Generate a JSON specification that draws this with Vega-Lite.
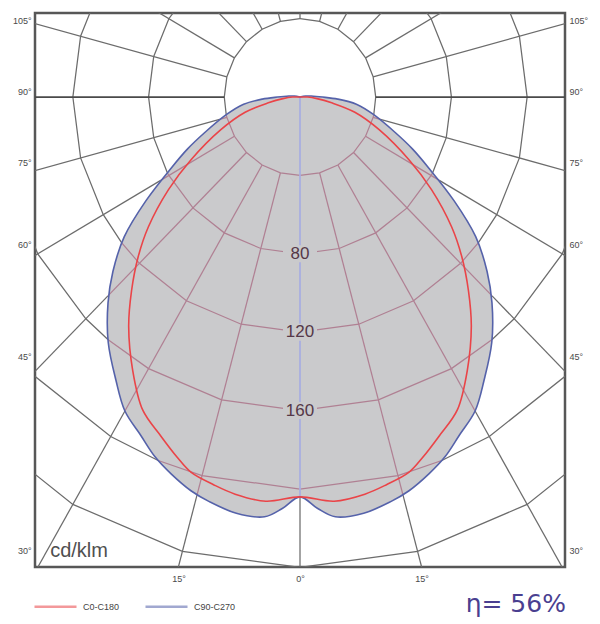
{
  "$schema": "https://vega.github.io/schema/vega-lite/v6.json",
  "width": 530,
  "height": 554,
  "autosize": {"type": "none"},
  "padding": {"left": 35, "top": 13, "right": 35, "bottom": 57},
  "background": "white",
  "config": {
    "font": "Liberation Sans",
    "view": {"stroke": "#575757", "strokeWidth": 2.5},
    "axis": {"grid": false, "domain": false, "ticks": false, "labelFontSize": 9, "labelColor": "#4a4a4a", "labelOverlap": false}
  },
  "datasets": {
    "curves": [
      {"c": "C90-C270", "a": -110, "v": 0}, {"c": "C90-C270", "a": -100, "v": 3}, {"c": "C90-C270", "a": -95, "v": 6},
      {"c": "C90-C270", "a": -90, "v": 12}, {"c": "C90-C270", "a": -87, "v": 20}, {"c": "C90-C270", "a": -83, "v": 30},
      {"c": "C90-C270", "a": -77, "v": 40}, {"c": "C90-C270", "a": -70, "v": 54}, {"c": "C90-C270", "a": -66, "v": 65},
      {"c": "C90-C270", "a": -62, "v": 77}, {"c": "C90-C270", "a": -57, "v": 97}, {"c": "C90-C270", "a": -52.5, "v": 117},
      {"c": "C90-C270", "a": -48, "v": 133}, {"c": "C90-C270", "a": -44, "v": 146}, {"c": "C90-C270", "a": -39, "v": 161},
      {"c": "C90-C270", "a": -34, "v": 174}, {"c": "C90-C270", "a": -30, "v": 185}, {"c": "C90-C270", "a": -26, "v": 192},
      {"c": "C90-C270", "a": -22.6, "v": 199}, {"c": "C90-C270", "a": -19.5, "v": 204}, {"c": "C90-C270", "a": -16, "v": 209},
      {"c": "C90-C270", "a": -13, "v": 212}, {"c": "C90-C270", "a": -9, "v": 215}, {"c": "C90-C270", "a": -5, "v": 215},
      {"c": "C90-C270", "a": -2.5, "v": 210}, {"c": "C90-C270", "a": 0, "v": 204}, {"c": "C90-C270", "a": 2.5, "v": 210},
      {"c": "C90-C270", "a": 5, "v": 215}, {"c": "C90-C270", "a": 9, "v": 215}, {"c": "C90-C270", "a": 13, "v": 212},
      {"c": "C90-C270", "a": 16, "v": 209}, {"c": "C90-C270", "a": 19.5, "v": 204}, {"c": "C90-C270", "a": 22.6, "v": 199},
      {"c": "C90-C270", "a": 26, "v": 192}, {"c": "C90-C270", "a": 30, "v": 185}, {"c": "C90-C270", "a": 34, "v": 174},
      {"c": "C90-C270", "a": 39, "v": 161}, {"c": "C90-C270", "a": 44, "v": 146}, {"c": "C90-C270", "a": 48, "v": 133},
      {"c": "C90-C270", "a": 52.5, "v": 117}, {"c": "C90-C270", "a": 57, "v": 97}, {"c": "C90-C270", "a": 62, "v": 77},
      {"c": "C90-C270", "a": 66, "v": 65}, {"c": "C90-C270", "a": 70, "v": 54}, {"c": "C90-C270", "a": 77, "v": 40},
      {"c": "C90-C270", "a": 83, "v": 30}, {"c": "C90-C270", "a": 87, "v": 20}, {"c": "C90-C270", "a": 90, "v": 12},
      {"c": "C90-C270", "a": 95, "v": 6}, {"c": "C90-C270", "a": 100, "v": 3}, {"c": "C90-C270", "a": 110, "v": 0},
      {"c": "C0-C180", "a": -100, "v": 0}, {"c": "C0-C180", "a": -90, "v": 4}, {"c": "C0-C180", "a": -85, "v": 9},
      {"c": "C0-C180", "a": -80, "v": 17}, {"c": "C0-C180", "a": -75, "v": 30}, {"c": "C0-C180", "a": -68.3, "v": 45},
      {"c": "C0-C180", "a": -60.9, "v": 66}, {"c": "C0-C180", "a": -55.8, "v": 84}, {"c": "C0-C180", "a": -50.4, "v": 104},
      {"c": "C0-C180", "a": -46.4, "v": 118}, {"c": "C0-C180", "a": -42, "v": 133}, {"c": "C0-C180", "a": -37.7, "v": 148},
      {"c": "C0-C180", "a": -32.4, "v": 165}, {"c": "C0-C180", "a": -27.5, "v": 180}, {"c": "C0-C180", "a": -23, "v": 188},
      {"c": "C0-C180", "a": -19.4, "v": 195}, {"c": "C0-C180", "a": -16.7, "v": 200}, {"c": "C0-C180", "a": -13, "v": 203},
      {"c": "C0-C180", "a": -9.6, "v": 205.5}, {"c": "C0-C180", "a": -5, "v": 207}, {"c": "C0-C180", "a": 0, "v": 204},
      {"c": "C0-C180", "a": 5, "v": 207}, {"c": "C0-C180", "a": 9.6, "v": 205.5}, {"c": "C0-C180", "a": 13, "v": 203},
      {"c": "C0-C180", "a": 16.7, "v": 200}, {"c": "C0-C180", "a": 19.4, "v": 195}, {"c": "C0-C180", "a": 23, "v": 188},
      {"c": "C0-C180", "a": 27.5, "v": 180}, {"c": "C0-C180", "a": 32.4, "v": 165}, {"c": "C0-C180", "a": 37.7, "v": 148},
      {"c": "C0-C180", "a": 42, "v": 133}, {"c": "C0-C180", "a": 46.4, "v": 118}, {"c": "C0-C180", "a": 50.4, "v": 104},
      {"c": "C0-C180", "a": 55.8, "v": 84}, {"c": "C0-C180", "a": 60.9, "v": 66}, {"c": "C0-C180", "a": 68.3, "v": 45},
      {"c": "C0-C180", "a": 75, "v": 30}, {"c": "C0-C180", "a": 80, "v": 17}, {"c": "C0-C180", "a": 85, "v": 9},
      {"c": "C0-C180", "a": 90, "v": 4}, {"c": "C0-C180", "a": 100, "v": 0}
    ],
    "rings": [
      {"id": "r40i", "s": "in", "v": 40, "a": [-77, -75, -60, -45, -30, -15, 0, 15, 30, 45, 60, 75, 77]},
      {"id": "r40l", "s": "out", "v": 40, "a": [-180, -165, -150, -135, -120, -105, -90, -77]},
      {"id": "r40r", "s": "out", "v": 40, "a": [77, 90, 105, 120, 135, 150, 165, 180]},
      {"id": "r80i", "s": "in", "v": 80, "a": [-61.25, -60, -45, -30, -15, 0, 15, 30, 45, 60, 61.25]},
      {"id": "r80l", "s": "out", "v": 80, "a": [-180, -165, -150, -135, -120, -105, -90, -75, -61.25]},
      {"id": "r80r", "s": "out", "v": 80, "a": [61.25, 75, 90, 105, 120, 135, 150, 165, 180]},
      {"id": "r120i", "s": "in", "v": 120, "a": [-51.7, -45, -30, -15, 0, 15, 30, 45, 51.7]},
      {"id": "r120l", "s": "out", "v": 120, "a": [-180, -165, -150, -135, -120, -105, -90, -75, -60, -51.7]},
      {"id": "r120r", "s": "out", "v": 120, "a": [51.7, 60, 75, 90, 105, 120, 135, 150, 165, 180]},
      {"id": "r160i", "s": "in", "v": 160, "a": [-39.3, -30, -15, 0, 15, 30, 39.3]},
      {"id": "r160l", "s": "out", "v": 160, "a": [-180, -165, -150, -135, -120, -105, -90, -75, -60, -45, -39.3]},
      {"id": "r160r", "s": "out", "v": 160, "a": [39.3, 45, 60, 75, 90, 105, 120, 135, 150, 165, 180]},
      {"id": "r200i", "s": "in", "v": 200, "a": [-22, -15, 0, 15, 22]},
      {"id": "r200l", "s": "out", "v": 200, "a": [-180, -165, -150, -135, -120, -105, -90, -75, -60, -45, -30, -22]},
      {"id": "r200r", "s": "out", "v": 200, "a": [22, 30, 45, 60, 75, 90, 105, 120, 135, 150, 165, 180]},
      {"id": "r240", "s": "out", "v": 240, "a": [-180, -165, -150, -135, -120, -105, -90, -75, -60, -45, -30, -15, 0, 15, 30, 45, 60, 75, 90, 105, 120, 135, 150, 165, 180]}
    ],
    "spokes": [
      {"id": "s0i", "s": "zero", "a": 0, "v": [0, 204]},
      {"id": "s0o", "s": "out", "a": 0, "v": [204, 300]},
      {"id": "s15Li", "s": "in", "a": -15, "v": [40, 210]}, {"id": "s15Lo", "s": "out", "a": -15, "v": [210, 300]},
      {"id": "s15Ri", "s": "in", "a": 15, "v": [40, 210]}, {"id": "s15Ro", "s": "out", "a": 15, "v": [210, 300]},
      {"id": "s30Li", "s": "in", "a": -30, "v": [40, 185]}, {"id": "s30Lo", "s": "out", "a": -30, "v": [185, 300]},
      {"id": "s30Ri", "s": "in", "a": 30, "v": [40, 185]}, {"id": "s30Ro", "s": "out", "a": 30, "v": [185, 300]},
      {"id": "s45Li", "s": "in", "a": -45, "v": [40, 143.5]}, {"id": "s45Lo", "s": "out", "a": -45, "v": [143.5, 300]},
      {"id": "s45Ri", "s": "in", "a": 45, "v": [40, 143.5]}, {"id": "s45Ro", "s": "out", "a": 45, "v": [143.5, 300]},
      {"id": "s60Li", "s": "in", "a": -60, "v": [40, 85]}, {"id": "s60Lo", "s": "out", "a": -60, "v": [85, 300]},
      {"id": "s60Ri", "s": "in", "a": 60, "v": [40, 85]}, {"id": "s60Ro", "s": "out", "a": 60, "v": [85, 300]},
      {"id": "s75Li", "s": "in", "a": -75, "v": [40, 44]}, {"id": "s75Lo", "s": "out", "a": -75, "v": [44, 300]},
      {"id": "s75Ri", "s": "in", "a": 75, "v": [40, 44]}, {"id": "s75Ro", "s": "out", "a": 75, "v": [44, 300]},
      {"id": "s90L", "s": "h", "a": -90, "v": [40, 300]}, {"id": "s90R", "s": "h", "a": 90, "v": [40, 300]},
      {"id": "s105L", "s": "out", "a": -105, "v": [40, 300]}, {"id": "s105R", "s": "out", "a": 105, "v": [40, 300]},
      {"id": "s120L", "s": "out", "a": -120, "v": [40, 300]}, {"id": "s120R", "s": "out", "a": 120, "v": [40, 300]},
      {"id": "s135L", "s": "out", "a": -135, "v": [40, 300]}, {"id": "s135R", "s": "out", "a": 135, "v": [40, 300]},
      {"id": "s150L", "s": "out", "a": -150, "v": [40, 300]}, {"id": "s150R", "s": "out", "a": 150, "v": [40, 300]},
      {"id": "s165L", "s": "out", "a": -165, "v": [40, 300]}, {"id": "s165R", "s": "out", "a": 165, "v": [40, 300]},
      {"id": "s180", "s": "out", "a": 180, "v": [40, 300]}
    ],
    "ringlabels": [{"a": 0, "v": 80}, {"a": 0, "v": 120}, {"a": 0, "v": 160}]
  },
  "resolve": {"scale": {"y": "independent"}},
  "layer": [
    {
      "encoding": {
        "x": {"field": "x", "type": "quantitative", "title": null, "scale": {"domain": [-135.2, 135.2]},
              "axis": {"orient": "bottom", "values": [-64.2, 0, 64.2], "labelExpr": "datum.value == 0 ? '0°' : '15°'", "labelPadding": 7}},
        "y": {"field": "y", "type": "quantitative", "title": null, "scale": {"domain": [-239.8, 42.9]},
              "axis": {"orient": "left", "values": [36.2, 0, -36.2, -78.1, -135.2, -234.2], "labelPadding": 4, "labelOffset": -6,
                       "labelExpr": "datum.value > 30 ? '105°' : datum.value > -10 ? '90°' : datum.value > -50 ? '75°' : datum.value > -100 ? '60°' : datum.value > -200 ? '45°' : '30°'"}}
      },
      "layer": [
        {
          "data": {"name": "curves"},
          "transform": [
            {"filter": "datum.c == 'C90-C270'"},
            {"calculate": "datum.v * sin(datum.a * PI / 180)", "as": "x"},
            {"calculate": "-datum.v * cos(datum.a * PI / 180)", "as": "y"}
          ],
          "mark": {"type": "line", "fill": "#cacacc", "strokeOpacity": 0, "interpolate": "catmull-rom"},
          "encoding": {"order": {"field": "a", "type": "quantitative"}}
        },
        {
          "data": {"name": "rings"},
          "transform": [
            {"flatten": ["a"]},
            {"calculate": "datum.v * sin(datum.a * PI / 180)", "as": "x"},
            {"calculate": "-datum.v * cos(datum.a * PI / 180)", "as": "y"}
          ],
          "mark": {"type": "line", "clip": true},
          "encoding": {
            "detail": {"field": "id", "type": "nominal"},
            "order": {"field": "a", "type": "quantitative"},
            "stroke": {"field": "s", "type": "nominal", "legend": null,
                       "scale": {"domain": ["out", "h", "in", "zero"], "range": ["#6c6c6c", "#4a4a4a", "#b08093", "#a9aee0"]}},
            "strokeWidth": {"condition": {"test": "datum.s == 'h'", "value": 2}, "value": 1.25}
          }
        },
        {
          "data": {"name": "spokes"},
          "transform": [
            {"flatten": ["v"]},
            {"calculate": "datum.v * sin(datum.a * PI / 180)", "as": "x"},
            {"calculate": "-datum.v * cos(datum.a * PI / 180)", "as": "y"}
          ],
          "mark": {"type": "line", "clip": true},
          "encoding": {
            "detail": {"field": "id", "type": "nominal"},
            "order": {"field": "v", "type": "quantitative"},
            "stroke": {"field": "s", "type": "nominal", "legend": null,
                       "scale": {"domain": ["out", "h", "in", "zero"], "range": ["#6c6c6c", "#4a4a4a", "#b08093", "#a9aee0"]}},
            "strokeWidth": {"condition": {"test": "datum.s == 'h' || datum.s == 'zero'", "value": 1.8}, "value": 1.25}
          }
        },
        {
          "data": {"name": "ringlabels"},
          "transform": [
            {"calculate": "datum.v * sin(datum.a * PI / 180)", "as": "x"},
            {"calculate": "-datum.v * cos(datum.a * PI / 180)", "as": "y"}
          ],
          "mark": {"type": "point", "shape": "M-1,-0.5H1V0.5H-1Z", "size": 1156, "filled": true, "fill": "#cacacc", "opacity": 1, "strokeWidth": 0}
        },
        {
          "data": {"name": "ringlabels"},
          "transform": [
            {"calculate": "datum.v * sin(datum.a * PI / 180)", "as": "x"},
            {"calculate": "-datum.v * cos(datum.a * PI / 180)", "as": "y"}
          ],
          "mark": {"type": "text", "fontSize": 17, "fill": "#553848", "align": "center", "baseline": "middle"},
          "encoding": {"text": {"field": "v", "type": "quantitative"}}
        },
        {
          "data": {"name": "curves"},
          "transform": [
            {"calculate": "datum.v * sin(datum.a * PI / 180)", "as": "x"},
            {"calculate": "-datum.v * cos(datum.a * PI / 180)", "as": "y"}
          ],
          "mark": {"type": "line", "strokeWidth": 1.6, "interpolate": "catmull-rom"},
          "encoding": {
            "order": {"field": "a", "type": "quantitative"},
            "color": {"field": "c", "type": "nominal",
                      "scale": {"domain": ["C0-C180", "C90-C270"], "range": ["#ea4448", "#5562aa"]},
                      "legend": {"orient": "none", "legendX": -2, "legendY": 571, "direction": "horizontal", "title": null,
                                 "symbolType": "M-1,0H1", "symbolSize": 1764, "symbolStrokeWidth": 2.5, "symbolOpacity": 0.55,
                                 "labelFontSize": 9, "labelColor": "#444444", "columnPadding": 20, "labelOffset": 5, "padding": 0}}
          }
        }
      ]
    },
    {
      "data": {"values": [{"t": "cd/klm"}]},
      "mark": {"type": "text", "fontSize": 20, "fill": "#505050", "align": "left", "baseline": "alphabetic"},
      "encoding": {
        "x": {"datum": -132, "type": "quantitative"},
        "y": {"datum": -234.7, "type": "quantitative", "scale": {"domain": [-239.8, 42.9]}, "axis": null},
        "text": {"field": "t", "type": "nominal"}
      }
    },
    {
      "data": {"values": [{"t": "η= 56%"}]},
      "mark": {"type": "text", "font": "DejaVu Sans", "fontSize": 25, "fill": "#4a3f90", "align": "right", "baseline": "alphabetic", "letterSpacing": 3},
      "encoding": {
        "x": {"datum": 140.5, "type": "quantitative"},
        "y": {"datum": -263, "type": "quantitative", "scale": {"domain": [-239.8, 42.9]}, "axis": null},
        "text": {"field": "t", "type": "nominal"}
      }
    },
    {
      "data": {"values": [{}]},
      "mark": {"type": "point", "opacity": 0},
      "encoding": {
        "x": {"datum": 0, "type": "quantitative"},
        "y": {"datum": 0, "type": "quantitative", "title": null, "scale": {"domain": [-239.8, 42.9]},
              "axis": {"orient": "right", "values": [36.2, 0, -36.2, -78.1, -135.2, -234.2], "labelPadding": 4, "labelOffset": -6,
                       "labelExpr": "datum.value > 30 ? '105°' : datum.value > -10 ? '90°' : datum.value > -50 ? '75°' : datum.value > -100 ? '60°' : datum.value > -200 ? '45°' : '30°'"}}
      }
    }
  ]
}
